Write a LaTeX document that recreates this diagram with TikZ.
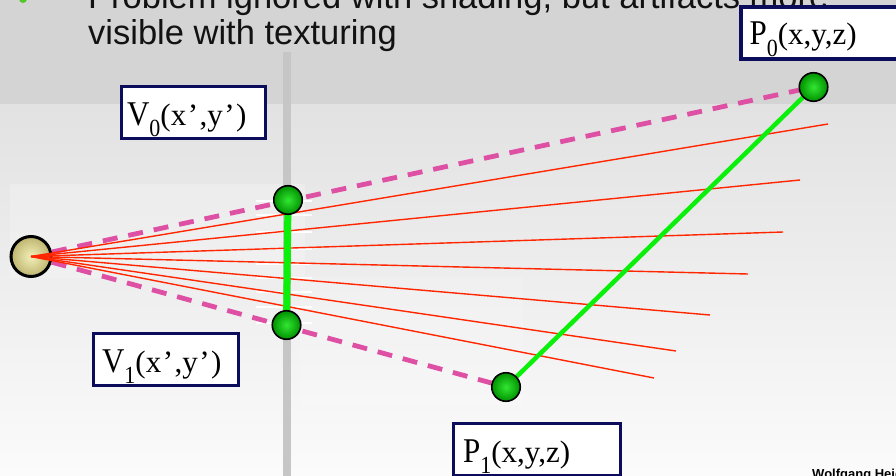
\documentclass[tikz,border=0pt]{standalone}
\usepackage{fontspec}
\usepackage{graphicx}
\setmainfont{Liberation Serif}
\newfontfamily\titlefont{Liberation Sans}
\definecolor{bandgray}{RGB}{212,212,212}
\definecolor{bgtop}{RGB}{226,226,226}
\definecolor{bgbot}{RGB}{251,251,251}
\definecolor{postgray}{RGB}{198,198,198}
\definecolor{rayred}{RGB}{255,38,0}
\definecolor{lgreen}{RGB}{10,240,10}
\definecolor{dashpink}{RGB}{222,80,164}
\definecolor{navy}{RGB}{12,12,92}
\definecolor{greenin}{RGB}{50,230,50}
\definecolor{greenout}{RGB}{0,145,0}
\definecolor{eyein}{RGB}{242,240,185}
\definecolor{eyeout}{RGB}{190,180,110}
\definecolor{bulletgreen}{RGB}{80,200,40}
\pgfdeclarelayer{bg}\pgfdeclarelayer{eyel}\pgfdeclarelayer{lines}
\pgfsetlayers{bg,eyel,lines,main}
\newcommand\lsub[1]{\raisebox{-0.32em}{\fontsize{22}{22}\selectfont #1}}
\newcommand\lbl[2]{\scalebox{1}[1.12]{#1\lsub{#2}}}
\newcommand\apos{\kern1.5pt’\kern1.5pt}
\tikzset{
  lbox/.style={draw=navy, line width=3.2pt, fill=white, inner sep=0pt, minimum height=52pt},
  ltext/.style={inner sep=0pt, anchor=base west, font=\fontsize{31}{31}\selectfont},
  gdot/.style={circle, draw=black, line width=1.6pt, inner sep=0pt, minimum size=28.5pt, inner color=greenin, outer color=greenout},
  eyedot/.style={circle, draw=black, line width=3pt, inner sep=0pt, minimum size=40pt, inner color=eyein, outer color=eyeout},
  ray/.style={draw=rayred, line width=1.4pt},
  dline/.style={draw=dashpink, line width=4.8pt, dash pattern=on 15pt off 11pt},
  gline/.style={draw=lgreen, line width=4.5pt},
  vgline/.style={draw=lgreen, line width=7pt},
  titletext/.style={inner sep=0pt, anchor=base west, font=\titlefont\fontsize{34.5}{36}\selectfont, text=black!93},
  tick/.style={draw=white, line width=1.5pt}
}
\begin{document}
\begin{tikzpicture}[x=1pt,y=-1pt]
\useasboundingbox (0,0) rectangle (896,476);
\begin{pgfonlayer}{bg}
  \fill[bandgray] (0,0) rectangle (896,105);
  \shade[top color=bgtop, bottom color=bgbot] (0,105) rectangle (896,476);
  \fill[white, opacity=0.22] (10,184) rectangle (305,278);
  \fill[white, opacity=0.15] (300,278) rectangle (523,405);
  \foreach \ty in {201,215,232,249,264,278,292,307,323}
    \draw[tick] (256,\ty) -- (312,\ty);
  \draw[postgray, line width=8pt] (287,52) -- (287,476);
  \fill[bulletgreen] (23,-1) circle (4);
\end{pgfonlayer}

\node[titletext] (t1) at (88,9) {Problem ignored with shading, but artifacts more};
\node[titletext] (t2) at (88,45) {visible with texturing};
\node[inner sep=0pt, anchor=base west, font=\titlefont\bfseries\fontsize{13}{13}\selectfont] (wh) at (812,478) {Wolfgang Heidrich};

\begin{pgfonlayer}{eyel}
  \node[eyedot] (eye) at (31,256.5) {};
\end{pgfonlayer}

\node[gdot] (V0) at (288,200) {};
\node[gdot] (V1) at (286.5,325) {};
\node[gdot] (P0) at (813.5,87) {};
\node[gdot] (P1) at (506,387) {};

\coordinate (r1) at (828,124);
\coordinate (r2) at (800,180);
\coordinate (r3) at (783,232);
\coordinate (r4) at (748,274);
\coordinate (r5) at (710,315);
\coordinate (r6) at (676,351);
\coordinate (r7) at (654,378);

\begin{pgfonlayer}{lines}
  \draw[dline] (eye) -- (P0);
  \draw[dline] (eye) -- (P1);
  \foreach \r in {r1,r2,r3,r4,r5,r6,r7}
    \draw[ray] (eye.center) -- (\r);
  \draw[vgline] (V0) -- (V1);
  \draw[gline] (P0) -- (P1);
\end{pgfonlayer}

\node[lbox, minimum width=144pt] (bV0) at (193.5,112.5) {};
\node[ltext] (tV0) at ([xshift=7pt,yshift=-12.5pt]bV0.west) {\lbl{V}{0}(x\apos,y\apos)};
\node[lbox, minimum width=145pt] (bV1) at (166,359.5) {};
\node[ltext] (tV1) at ([xshift=10pt,yshift=-12.5pt]bV1.west) {\lbl{V}{1}(x\apos,y\apos)};
\node[lbox, minimum width=170pt] (bP0) at (826,33) {};
\node[ltext] (tP0) at ([xshift=10pt,yshift=-12pt]bP0.west) {\lbl{P}{0}(x,y,z)};
\node[lbox, minimum width=167pt] (bP1) at (537,449.5) {};
\node[ltext] (tP1) at ([xshift=11pt,yshift=-12.5pt]bP1.west) {\lbl{P}{1}(x,y,z)};
\end{tikzpicture}
\end{document}
